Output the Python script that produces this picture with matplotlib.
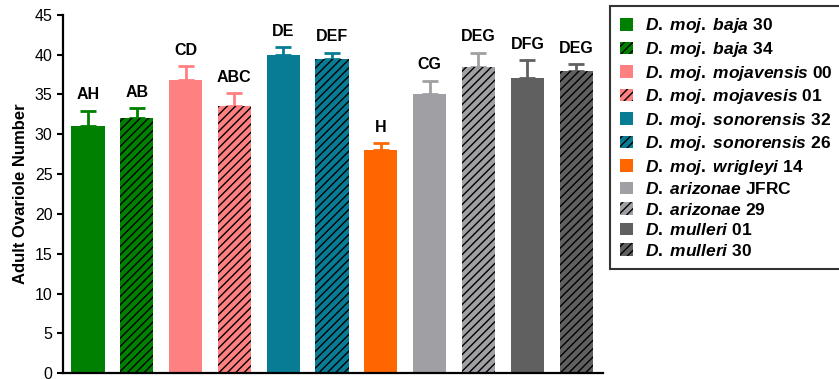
import matplotlib
matplotlib.use("Agg")
import matplotlib.pyplot as plt
from matplotlib.patches import Patch

plt.rcParams['font.family'] = 'Liberation Sans'
plt.rcParams['mathtext.fontset'] = 'custom'
plt.rcParams['mathtext.it'] = 'Liberation Sans:italic:bold'
plt.rcParams['mathtext.rm'] = 'Liberation Sans:bold'
plt.rcParams['hatch.linewidth'] = 1.0

# ovariole counts (mean, upper SEM) per line
species = ["D. moj. baja", "D. moj. baja", "D. moj. mojavensis", "D. moj. mojavesis",
           "D. moj. sonorensis", "D. moj. sonorensis", "D. moj. wrigleyi",
           "D. arizonae", "D. arizonae", "D. mulleri", "D. mulleri"]
strains = ["30", "34", "00", "01", "32", "26", "14", "JFRC", "29", "01", "30"]
means = [31.1, 32.1, 36.8, 33.6, 40.0, 39.5, 28.0, 35.1, 38.5, 37.05, 38.0]
errs = [1.85, 1.15, 1.75, 1.55, 0.95, 0.75, 0.9, 1.65, 1.75, 2.25, 0.8]
groups = ["AH", "AB", "CD", "ABC", "DE", "DEF", "H", "CG", "DEG", "DFG", "DEG"]
colors = ["#008000", "#008000", "#FF8080", "#FF8080", "#087C94", "#087C94",
          "#FF6600", "#A0A0A4", "#A0A0A4", "#606060", "#606060"]
hatched = [False, True, False, True, False, True, False, False, True, False, True]

fig = plt.figure(figsize=(8.39, 3.79), dpi=100)
ax = fig.add_axes([0.0751, 0.015, 0.6436, 0.946])

x = list(range(len(means)))
for i in x:
    ax.bar(i, means[i], width=0.68, color=colors[i],
           hatch='////' if hatched[i] else None,
           edgecolor='black' if hatched[i] else colors[i],
           linewidth=0, zorder=2)
    ax.errorbar(i, means[i], yerr=[[0], [errs[i]]], color=colors[i],
                capsize=5.5, capthick=2, elinewidth=2, zorder=1)
    ax.annotate(groups[i], (i, means[i] + errs[i]), xytext=(0, 6),
                textcoords='offset points', ha='center', va='bottom',
                fontsize=11.5, fontweight='bold')

ax.set_xlim(-0.51, 10.55)
ax.set_ylim(0, 45)
ax.set_yticks(range(0, 46, 5))
ax.set_xticks([])
ax.tick_params(axis='y', labelsize=11.5, width=1.5, length=4)
for side in ['top', 'right']:
    ax.spines[side].set_visible(False)
for side in ['left', 'bottom']:
    ax.spines[side].set_linewidth(1.6)
ax.set_ylabel("Adult Ovariole Number", fontsize=12, fontweight='bold', labelpad=5)

handles = []
for i in x:
    name = species[i].replace(" ", r"\;")
    handles.append(Patch(facecolor=colors[i], edgecolor='black' if hatched[i] else colors[i],
                         linewidth=0, hatch='////' if hatched[i] else None,
                         label=r"$\it{" + name + "}$ " + strains[i]))
leg = fig.legend(handles=handles, loc='upper left', bbox_to_anchor=(0.727, 0.984),
                 fontsize=12.5, frameon=True, fancybox=False, edgecolor='black',
                 handlelength=0.75, handleheight=0.75, handletextpad=0.65,
                 labelspacing=0.26, borderpad=0.6, borderaxespad=0)
leg.get_frame().set_linewidth(1.5)
for t in leg.get_texts():
    t.set_fontweight('bold')

fig.savefig("out.png", dpi=100)
